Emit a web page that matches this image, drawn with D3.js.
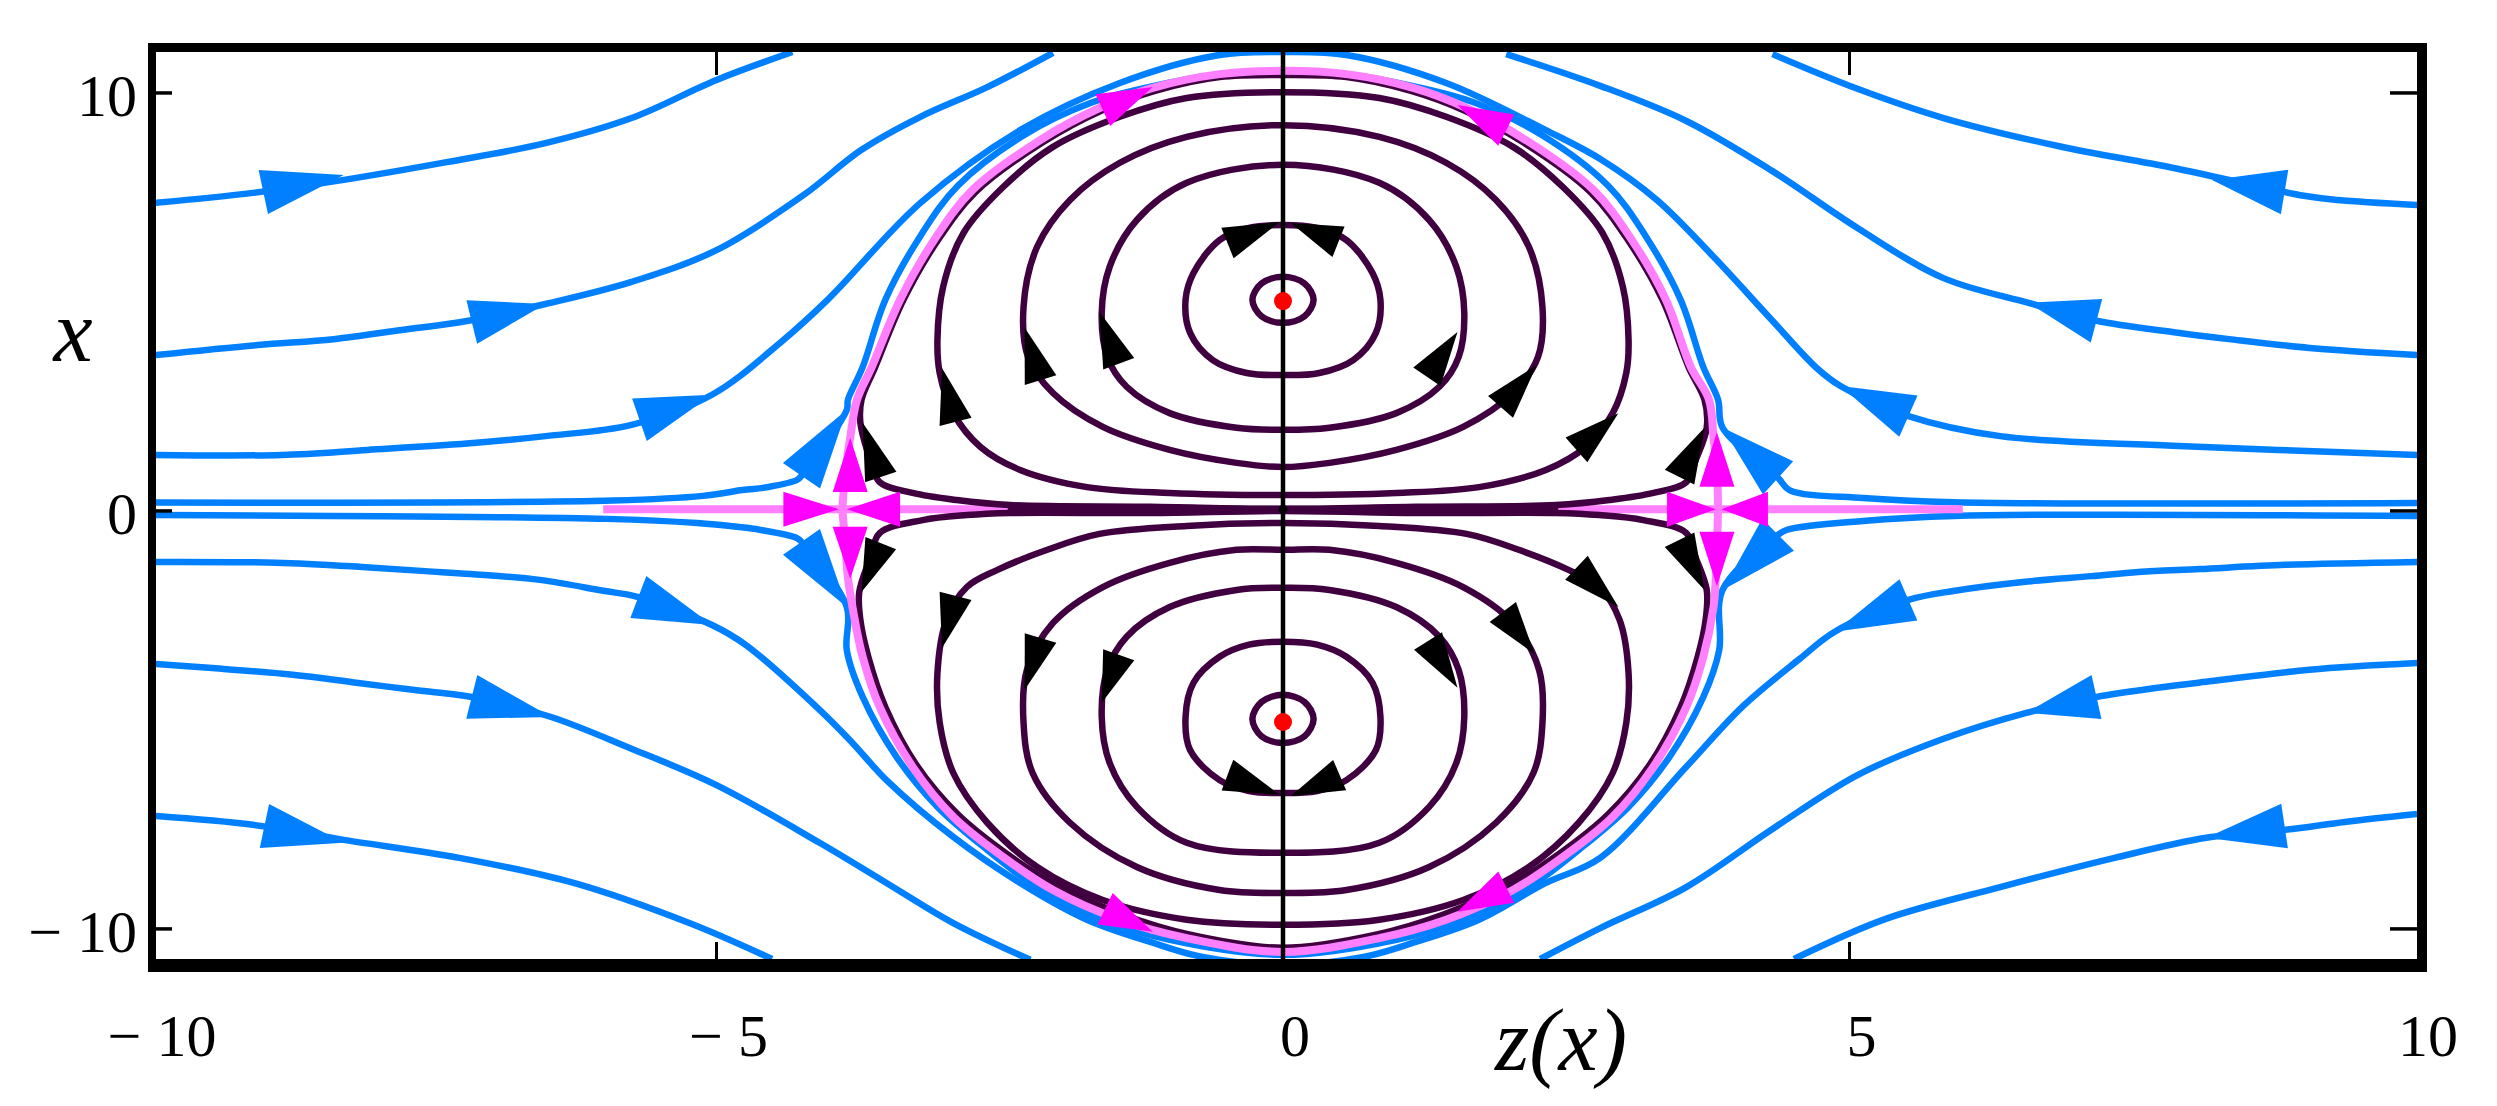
<!DOCTYPE html>
<html>
<head>
<meta charset="utf-8">
<script src="https://cdn.jsdelivr.net/npm/d3@7"></script>
<style>
 body { margin: 0; background: #fff; }
 text { font-family: "Liberation Serif", "Times New Roman", serif; fill: #000; }
</style>
</head>
<body>
<script>
const width = 2497;
const height = 1106;

// ticks
const zTicks = [-10, -5, 0, 5, 10];
const xTicks = [-10, 0, 10];

// equilibria (z, x)
const centers = [[0, 5.02], [0, -5.05]];
const origin = [[0, 0.04]];

// blue trajectories as (z, x)
const blueTopLeft1 = [[-9.95,7.37],[-9.09,7.61],[-8.29,7.92],[-7.37,8.35],[-6.51,8.80],[-5.75,9.40],[-5.00,10.31],[-4.33,10.98]];
const blueTopRight1 = [[10.01,7.32],[9.31,7.44],[9.01,7.54],[7.85,8.21],[6.84,8.73],[5.83,9.40],[5.07,10.10],[4.32,10.93]];
const blueTopLeft2 = [[-9.95,3.73],[-9.05,3.97],[-8.38,4.11],[-7.78,4.33],[-7.19,4.55],[-6.51,4.95],[-5.75,5.48],[-5.00,6.24],[-4.23,7.56],[-3.72,8.64],[-3.20,9.43],[-2.61,10.14],[-2.03,10.96]];
const blueTopRight2 = [[10.01,3.73],[9.06,3.90],[8.35,4.11],[7.85,4.28],[7.18,4.55],[6.58,4.98],[5.83,5.57],[5.07,6.77],[4.32,8.13],[3.56,9.33],[2.80,10.17],[1.97,10.93]];
const blueTopArc = [[-9.95,1.34],[-8.84,1.34],[-8.08,1.46],[-7.12,1.63],[-6.51,1.79],[-5.75,2.06],[-5.04,2.78],[-4.44,4.02],[-4.02,5.05],[-3.20,7.37],[-2.32,9.11],[-1.44,10.24],[-0.56,10.91],[0,10.98],[0.56,10.91],[1.44,10.24],[2.32,9.11],[2.80,8.42],[3.30,7.44],[3.80,6.08],[4.32,4.55],[4.71,3.42],[4.92,2.99],[5.52,2.27],[6.33,1.79],[7.85,1.56],[10.01,1.34]];
const blueTopSep = [[-9.95,0.20],[-5.91,0.25],[-5.12,0.36],[-4.77,0.50],[-4.55,0.57],[-4.29,0.74],[-4.25,0.84],[-3.85,2.42],[-3.84,2.66],[-3.71,3.44],[-3.51,5.05],[-3.20,6.58],[-2.87,7.78],[-2.28,9.00],[-1.70,9.76],[-1.17,10.15],[-0.56,10.45],[0,10.53],[0.56,10.45],[1.17,10.15],[1.70,9.76],[2.28,9.00],[2.87,7.78],[3.20,6.58],[3.51,5.05],[3.71,3.44],[3.84,2.66],[3.88,1.99],[4.37,0.79],[4.47,0.50],[5.12,0.31],[5.92,0.21],[10.01,0.19]];
const blueBotSep = [[-9.95,-0.10],[-5.97,-0.19],[-5.17,-0.29],[-4.82,-0.38],[-4.62,-0.45],[-4.29,-0.65],[-4.25,-0.74],[-3.85,-2.30],[-3.85,-3.33],[-3.71,-4.45],[-3.41,-5.89],[-3.05,-7.08],[-2.61,-8.11],[-2.17,-9.00],[-1.59,-9.78],[-1.00,-10.26],[0,-10.62],[1.00,-10.26],[1.59,-9.78],[2.17,-9.00],[2.61,-8.11],[3.05,-7.08],[3.41,-5.89],[3.71,-4.45],[3.85,-3.33],[3.88,-1.89],[4.37,-0.57],[4.45,-0.45],[5.12,-0.24],[5.92,-0.12],[10.01,-0.12]];
const blueBotArc = [[-9.95,-1.22],[-8.89,-1.24],[-8.13,-1.34],[-7.57,-1.44],[-7.17,-1.51],[-6.56,-1.65],[-6.00,-1.91],[-5.69,-2.06],[-5.04,-2.73],[-4.74,-3.21],[-4.09,-4.76],[-3.80,-5.55],[-3.50,-6.44],[-2.91,-7.80],[-2.32,-8.90],[-1.73,-9.78],[-1.15,-10.33],[-0.71,-10.67],[0,-10.86],[0.71,-10.67],[1.15,-10.33],[1.73,-9.78],[2.32,-8.90],[2.80,-8.30],[3.56,-6.12],[4.06,-4.67],[4.56,-3.54],[4.87,-2.89],[5.52,-2.13],[5.93,-1.91],[6.53,-1.70],[7.14,-1.56],[7.55,-1.46],[8.09,-1.39],[8.85,-1.29],[10.01,-1.22]];
const blueBotLeft2 = [[-9.95,-3.66],[-9.45,-3.76],[-8.74,-3.92],[-8.18,-4.11],[-7.68,-4.28],[-7.16,-4.45],[-6.46,-4.93],[-5.75,-5.69],[-5.00,-6.56],[-4.09,-7.94],[-3.50,-8.90],[-2.91,-9.86],[-2.23,-10.74]];
const blueBotRight2 = [[10.01,-3.64],[9.06,-3.80],[8.20,-4.07],[7.72,-4.23],[7.18,-4.45],[6.56,-4.83],[5.83,-5.45],[5.07,-6.32],[4.32,-7.61],[3.56,-9.00],[2.80,-9.98],[2.27,-10.72]];
const blueBotLeft1 = [[-9.95,-7.30],[-9.09,-7.51],[-8.29,-7.87],[-7.27,-8.30],[-6.26,-8.90],[-5.24,-9.86],[-4.51,-10.72]];
const blueBotRight1 = [[10.01,-7.25],[9.37,-7.44],[8.91,-7.61],[8.15,-7.82],[7.34,-8.30],[6.33,-9.00],[5.32,-9.76],[4.51,-10.72]];

// closed purple orbits round the two centres
const orbitsUpper = [
 [[0,5.60],[-0.19,5.44],[-0.27,5.05],[-0.19,4.66],[0,4.50],[0.19,4.66],[0.27,5.05],[0.19,5.44]],
 [[0,6.84],[-0.30,6.77],[-0.56,6.48],[-0.79,5.69],[-0.86,5.05],[-0.82,4.26],[-0.62,3.61],[-0.32,3.30],[0,3.25],[0.32,3.30],[0.62,3.61],[0.82,4.26],[0.86,5.05],[0.79,5.69],[0.56,6.48],[0.30,6.77]],
 [[0,8.28],[-0.85,7.85],[-1.29,6.96],[-1.53,5.84],[-1.60,4.74],[-1.55,3.68],[-1.38,2.97],[-1.00,2.34],[-0.41,1.99],[0,1.94],[0.41,1.99],[1.00,2.34],[1.38,2.97],[1.55,3.68],[1.60,4.74],[1.53,5.84],[1.29,6.96],[0.85,7.85]],
 [[0,9.23],[-0.85,8.95],[-1.44,8.33],[-1.88,7.44],[-2.17,6.32],[-2.29,4.88],[-2.25,3.68],[-2.03,2.82],[-1.59,2.01],[-1.00,1.46],[-0.41,1.15],[0,1.05],[0.41,1.15],[1.00,1.46],[1.59,2.01],[2.03,2.82],[2.25,3.68],[2.29,4.88],[2.17,6.32],[1.88,7.44],[1.44,8.33],[0.85,8.95]],
 [[0,10.02],[-0.85,9.88],[-1.44,9.43],[-2.03,8.71],[-2.47,7.75],[-2.82,6.65],[-3.00,5.36],[-3.05,4.09],[-3.03,3.30],[-2.91,2.34],[-2.67,1.53],[-2.32,0.98],[-1.73,0.57],[-1.00,0.43],[0,0.38],[1.00,0.43],[1.73,0.57],[2.32,0.98],[2.67,1.53],[2.91,2.34],[3.03,3.30],[3.05,4.09],[3.00,5.36],[2.82,6.65],[2.47,7.75],[2.03,8.71],[1.44,9.43],[0.85,9.88]],
 [[0,0.05],[-1.17,0.10],[-2.41,0.14],[-2.88,0.26],[-3.27,0.43],[-3.56,0.69],[-3.64,1.20],[-3.73,2.11],[-3.72,2.66],[-3.60,3.44],[-3.35,5.05],[-3.05,6.46],[-2.71,7.64],[-2.12,8.82],[-1.60,9.58],[-1.13,10.05],[-0.56,10.38],[0,10.43],[0.56,10.38],[1.13,10.05],[1.60,9.58],[2.12,8.82],[2.71,7.64],[3.05,6.46],[3.35,5.05],[3.58,3.44],[3.72,2.66],[3.74,1.99],[3.64,1.20],[3.56,0.69],[3.27,0.43],[2.88,0.26],[2.41,0.14],[1.17,0.10]]
];
const orbitsLower = [
 [[0,-4.40],[-0.19,-4.57],[-0.27,-4.98],[-0.19,-5.39],[0,-5.55],[0.19,-5.39],[0.27,-4.98],[0.19,-4.57]],
 [[0,-3.13],[-0.30,-3.20],[-0.56,-3.49],[-0.79,-4.11],[-0.86,-4.93],[-0.82,-5.72],[-0.56,-6.44],[-0.30,-6.70],[0,-6.75],[0.30,-6.70],[0.56,-6.44],[0.82,-5.72],[0.86,-4.93],[0.79,-4.11],[0.56,-3.49],[0.30,-3.20]],
 [[0,-1.84],[-0.41,-1.89],[-1.00,-2.30],[-1.38,-3.01],[-1.55,-3.80],[-1.60,-4.93],[-1.53,-6.03],[-1.29,-7.08],[-0.85,-7.94],[0,-8.18],[0.85,-7.94],[1.29,-7.08],[1.53,-6.03],[1.60,-4.93],[1.55,-3.80],[1.38,-3.01],[1.00,-2.30],[0.41,-1.89]],
 [[0,-0.93],[-0.41,-0.93],[-1.00,-1.24],[-1.59,-1.82],[-2.03,-2.68],[-2.26,-3.80],[-2.29,-5.07],[-2.21,-6.27],[-1.88,-7.46],[-1.29,-8.52],[-0.56,-9.07],[0,-9.14],[0.56,-9.07],[1.29,-8.52],[1.88,-7.46],[2.21,-6.27],[2.29,-5.07],[2.26,-3.80],[2.03,-2.68],[1.59,-1.82],[1.00,-1.24],[0.41,-0.93]],
 [[0,-0.29],[-0.85,-0.36],[-1.62,-0.55],[-2.08,-0.93],[-2.52,-1.41],[-2.79,-1.82],[-2.97,-2.60],[-3.05,-3.88],[-3.03,-5.07],[-2.91,-6.27],[-2.61,-7.46],[-2.17,-8.52],[-1.59,-9.31],[-0.85,-9.78],[0,-9.90],[0.85,-9.78],[1.59,-9.31],[2.17,-8.52],[2.61,-7.46],[2.91,-6.27],[3.03,-5.07],[3.05,-3.88],[2.97,-2.60],[2.79,-1.82],[2.52,-1.41],[2.08,-0.93],[1.62,-0.55],[0.85,-0.36]],
 [[0,0.00],[-1.17,-0.05],[-2.41,-0.05],[-2.79,-0.10],[-3.18,-0.22],[-3.56,-0.53],[-3.64,-1.10],[-3.74,-1.94],[-3.73,-2.61],[-3.66,-3.49],[-3.51,-4.69],[-3.23,-6.10],[-2.87,-7.26],[-2.44,-8.20],[-2.00,-8.96],[-1.41,-9.66],[-0.83,-10.13],[0,-10.45],[0.83,-10.13],[1.41,-9.66],[2.00,-8.96],[2.44,-8.20],[2.87,-7.26],[3.23,-6.10],[3.51,-4.69],[3.66,-3.49],[3.73,-2.61],[3.74,-1.89],[3.64,-1.10],[3.56,-0.53],[3.18,-0.22],[2.79,-0.10],[2.41,-0.05],[1.17,-0.05]]
];
const purpleAxis = [[-2.43,0.04],[2.43,0.04]];

// separatrices (pink)
const sepUpper = [[-3.89,0.05],[-3.86,0.98],[-3.82,1.75],[-3.76,2.66],[-3.63,3.44],[-3.38,5.05],[-3.08,6.48],[-2.74,7.68],[-2.14,8.88],[-1.62,9.64],[-1.15,10.12],[-0.56,10.45],[0,10.53],[0.56,10.45],[1.15,10.12],[1.62,9.64],[2.14,8.88],[2.74,7.68],[3.08,6.48],[3.38,5.05],[3.60,3.44],[3.76,2.66],[3.80,1.75],[3.83,0.98],[3.84,0.05]];
const sepLower = [[-3.89,0.05],[-3.86,-0.90],[-3.84,-1.60],[-3.80,-2.30],[-3.71,-3.49],[-3.56,-4.69],[-3.27,-6.12],[-2.91,-7.32],[-2.47,-8.28],[-2.03,-9.07],[-1.44,-9.78],[-0.85,-10.22],[0,-10.55],[0.85,-10.22],[1.44,-9.78],[2.03,-9.07],[2.47,-8.28],[2.91,-7.32],[3.27,-6.12],[3.56,-4.69],[3.71,-3.49],[3.80,-2.30],[3.82,-1.60],[3.83,-0.90],[3.84,0.05]];
const sepAxisLeft = [[-6.00,0.04],[-2.43,0.04]];
const sepAxisRight = [[2.43,0.04],[6.00,0.04]];

// arrowheads: [tip, base centre]
const blueArrows = [
 [[-8.29,8.04],[-9.00,7.63]], [[-6.51,4.95],[-7.16,4.52]], [[-5.04,2.78],[-5.68,2.18]], [[-3.85,2.42],[-4.25,0.84]],
 [[-3.85,-2.30],[-4.25,-0.74]], [[-5.04,-2.73],[-5.69,-2.06]], [[-6.46,-4.93],[-7.16,-4.45]], [[-8.29,-7.94],[-8.99,-7.54]],
 [[8.20,7.92],[8.84,7.63]], [[6.58,4.98],[7.18,4.55]], [[4.92,2.99],[5.52,2.27]], [[3.88,1.99],[4.37,0.79]],
 [[3.88,-1.89],[4.37,-0.57]], [[4.87,-2.89],[5.52,-2.13]], [[6.56,-4.83],[7.18,-4.45]], [[8.15,-7.82],[8.84,-7.54]]
];
const blackArrows = [
 [[-0.03,6.91],[-0.49,6.41]], [[0.07,6.89],[0.49,6.44]], [[-1.62,4.76],[-1.45,3.52]], [[-2.28,4.38],[-2.14,3.13]],
 [[-3.01,3.42],[-2.89,2.13]], [[-3.71,2.11],[-3.55,0.81]], [[1.54,4.28],[1.27,3.21]], [[2.24,3.49],[1.92,2.49]],
 [[2.96,2.34],[2.59,1.46]], [[3.72,1.99],[3.50,0.81]],
 [[-3.72,-1.94],[-3.55,-0.77]], [[-3.01,-3.28],[-2.89,-2.03]], [[-2.28,-4.28],[-2.14,-3.04]], [[-1.60,-4.59],[-1.45,-3.44]],
 [[-0.03,-6.79],[-0.49,-6.32]], [[0.07,-6.82],[0.50,-6.32]], [[1.54,-4.23],[1.28,-3.11]], [[2.22,-3.42],[1.94,-2.42]],
 [[2.96,-2.30],[2.59,-1.36]], [[3.72,-1.89],[3.50,-0.69]]
];
const pinkArrows = [
 [[-1.15,10.14],[-1.59,9.59]], [[1.54,9.71],[1.97,9.11]], [[-1.15,-10.07],[-1.57,-9.52]], [[1.54,-9.59],[1.97,-9.00]],
 [[-3.92,0.04],[-4.41,0.04]], [[-3.85,0.04],[-3.38,0.04]], [[-3.82,1.75],[-3.82,0.45]], [[-3.82,-1.62],[-3.82,-0.38]],
 [[3.82,0.04],[3.39,0.04]], [[3.87,0.04],[4.28,0.04]], [[3.83,1.88],[3.83,0.58]], [[3.83,-1.80],[3.83,-0.50]]
];

const blue = "#0080ff", purple = "#400040", pink = "#ff80ff", magenta = "#ff00ff";
const serif = "'Liberation Serif', 'Times New Roman', serif";

const svg = d3.select("body").append("svg")
  .attr("width", width)
  .attr("height", height)
  .style("display", "block")
  .style("background", "#fff");

const zScale = d3.scaleLinear().domain([-10, 10]).range([150, 2416]);
const xScale = d3.scaleLinear().domain([-10.72, 10.98]).range([959, 52]);

const line = d3.line().x(d => zScale(d[0])).y(d => xScale(d[1])).curve(d3.curveCatmullRom.alpha(0.5));
const loop = d3.line().x(d => zScale(d[0])).y(d => xScale(d[1])).curve(d3.curveCatmullRomClosed.alpha(0.5));

function arrowPath(d, w) {
  const tx = zScale(d[0][0]), ty = xScale(d[0][1]);
  const bx = zScale(d[1][0]), by = xScale(d[1][1]);
  const dx = tx - bx, dy = ty - by, L = Math.hypot(dx, dy);
  const nx = -dy / L * w / 2, ny = dx / L * w / 2;
  return "M" + tx + "," + ty + "L" + (bx + nx) + "," + (by + ny) + "L" + (bx - nx) + "," + (by - ny) + "Z";
}

svg.append("clipPath").attr("id", "plot")
  .append("rect").attr("x", 156).attr("y", 52).attr("width", 2261).attr("height", 907);

const g = svg.append("g").attr("clip-path", "url(#plot)");

const blueCurves = [blueTopLeft1, blueTopRight1, blueTopLeft2, blueTopRight2, blueTopArc, blueTopSep,
  blueBotSep, blueBotArc, blueBotLeft2, blueBotRight2, blueBotLeft1, blueBotRight1];

g.selectAll(".blue").data(blueCurves).enter().append("path")
  .attr("d", line).attr("fill", "none").attr("stroke", blue).attr("stroke-width", 6.5);

g.selectAll(".sepaxis").data([sepAxisLeft, sepAxisRight]).enter().append("path")
  .attr("d", line).attr("fill", "none").attr("stroke", pink).attr("stroke-width", 8);

g.selectAll(".orbit").data(orbitsUpper.concat(orbitsLower)).enter().append("path")
  .attr("d", loop).attr("fill", "none").attr("stroke", purple).attr("stroke-width", 6.5);

g.append("path").attr("d", line(purpleAxis)).attr("fill", "none").attr("stroke", purple).attr("stroke-width", 7);

g.selectAll(".sep").data([sepUpper, sepLower]).enter().append("path")
  .attr("d", line).attr("fill", "none").attr("stroke", pink).attr("stroke-width", 8);

// vertical axis line through z = 0
g.append("line")
  .attr("x1", zScale(0)).attr("x2", zScale(0)).attr("y1", 52).attr("y2", 959)
  .attr("stroke", "#000").attr("stroke-width", 4.5);

g.selectAll(".barrow").data(blueArrows).enter().append("path")
  .attr("d", d => arrowPath(d, 45)).attr("fill", blue);
g.selectAll(".karrow").data(blackArrows).enter().append("path")
  .attr("d", d => arrowPath(d, 33)).attr("fill", "#000");
g.selectAll(".parrow").data(pinkArrows).enter().append("path")
  .attr("d", d => arrowPath(d, 35)).attr("fill", magenta);

g.selectAll(".centre").data(centers).enter().append("circle")
  .attr("cx", d => zScale(d[0])).attr("cy", d => xScale(d[1])).attr("r", 9).attr("fill", "#ff0000");
g.selectAll(".origin").data(origin).enter().append("circle")
  .attr("cx", d => zScale(d[0])).attr("cy", d => xScale(d[1])).attr("r", 4.5).attr("fill", "#000");

// frame
svg.append("line").attr("x1", 148).attr("x2", 2427).attr("y1", 47.5).attr("y2", 47.5).attr("stroke", "#000").attr("stroke-width", 9);
svg.append("line").attr("x1", 148).attr("x2", 2427).attr("y1", 965.5).attr("y2", 965.5).attr("stroke", "#000").attr("stroke-width", 13);
svg.append("line").attr("x1", 152).attr("x2", 152).attr("y1", 43).attr("y2", 972).attr("stroke", "#000").attr("stroke-width", 8);
svg.append("line").attr("x1", 2422).attr("x2", 2422).attr("y1", 43).attr("y2", 972).attr("stroke", "#000").attr("stroke-width", 10);

// ticks
const innerZ = zTicks.filter(v => Math.abs(v) < 10);
svg.selectAll(".ztop").data(innerZ).enter().append("line")
  .attr("x1", d => zScale(d)).attr("x2", d => zScale(d)).attr("y1", 52).attr("y2", 75)
  .attr("stroke", "#000").attr("stroke-width", 3);
svg.selectAll(".zbot").data(innerZ).enter().append("line")
  .attr("x1", d => zScale(d)).attr("x2", d => zScale(d)).attr("y1", 942).attr("y2", 959)
  .attr("stroke", "#000").attr("stroke-width", 3);
svg.selectAll(".xl").data(xTicks).enter().append("line")
  .attr("x1", 156).attr("x2", 172).attr("y1", d => xScale(d)).attr("y2", d => xScale(d))
  .attr("stroke", "#000").attr("stroke-width", 3.5);
svg.selectAll(".xr").data(xTicks).enter().append("line")
  .attr("x1", 2390).attr("x2", 2417).attr("y1", d => xScale(d)).attr("y2", d => xScale(d))
  .attr("stroke", "#000").attr("stroke-width", 3.5);

const fmt = v => v < 0 ? "\u2212 " + Math.abs(v) : String(v);

svg.selectAll(".zlab").data(zTicks).enter().append("text")
  .attr("x", d => zScale(d) + 12).attr("y", 1056)
  .attr("text-anchor", "middle").attr("font-family", serif).attr("font-size", 60)
  .text(fmt);
svg.selectAll(".xlab").data(xTicks).enter().append("text")
  .attr("x", 137).attr("y", d => xScale(d) + 23)
  .attr("text-anchor", "end").attr("font-family", serif).attr("font-size", 60)
  .text(fmt);

svg.append("text").attr("x", 73).attr("y", 361).attr("text-anchor", "middle")
  .attr("font-family", serif).attr("font-size", 88).attr("font-style", "italic").text("x");
svg.append("text").attr("x", 1561).attr("y", 1070).attr("text-anchor", "middle")
  .attr("font-family", serif).attr("font-size", 88).attr("font-style", "italic").text("z(x)");
</script>
</body>
</html>
